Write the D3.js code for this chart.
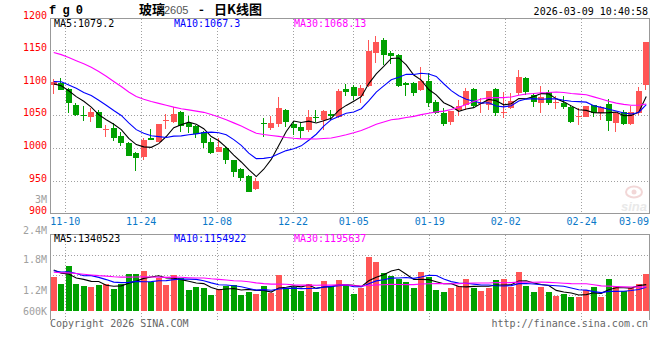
<!DOCTYPE html>
<html><head><meta charset="utf-8">
<script src="https://cdn.jsdelivr.net/npm/d3@7/dist/d3.min.js"></script>
<style>body{margin:0;background:#fff}svg{display:block}</style>
</head><body>
<svg id="chart" width="660" height="360"></svg>
<script>
// ---------------- DATA ----------------
const dates = ["11-06","11-07","11-10","11-11","11-12","11-13","11-14","11-17","11-18","11-19",
"11-20","11-21","11-24","11-25","11-26","11-27","11-28","12-01","12-02","12-03",
"12-04","12-05","12-08","12-09","12-10","12-11","12-12","12-15","12-16","12-17",
"12-18","12-19","12-22","12-23","12-24","12-25","12-26","12-29","12-30","12-31",
"01-05","01-06","01-07","01-08","01-09","01-12","01-13","01-14","01-15","01-16",
"01-19","01-20","01-21","01-22","01-23","01-26","01-27","01-28","01-29","01-30",
"02-02","02-03","02-04","02-05","02-06","02-09","02-10","02-11","02-12","02-13",
"02-24","02-25","02-26","02-27","03-02","03-03","03-04","03-05","03-06","03-09"];
const opens = [1097.5,1100,1091.3,1066.8,1051,1049,1056.6,1029.6,1032,1019,
1009,993.5,986.3,1016.5,1010.4,1042,1041,1056.5,1038.7,1035,
1024.9,1010.5,995,1001.3,982.3,968.5,958,937,1039.5,1031.8,
1038,1059,1037,1033.4,1028.3,1049,1043.6,1052.8,1047.7,1091.2,
1093.7,1080.4,1095.8,1147,1166.4,1147,1143.4,1101,1100,1089.6,
1104,1071.7,1054.9,1041,1059,1066.6,1090.7,1068.2,1066.6,1090.7,
1053.8,1061.5,1084.5,1107.5,1082,1070.2,1087,1071,1070.2,1064,
1049,1048.7,1066.6,1054.9,1068.2,1038.5,1056.4,1037.5,1054.9,1097.3];
const highs = [1106.5,1108.5,1092,1070.4,1065.3,1061.7,1059,1036,1038.5,1025,
1009.5,994,1015.5,1029.8,1037.5,1052.8,1064,1057,1050,1036,
1026,1016.7,1016.7,1002,983,970,959,955,1046,1050,
1079.4,1060,1042,1041,1059,1059,1059,1059,1090.6,1098.3,
1097.3,1097.3,1166.4,1172.5,1169,1150,1145,1102.4,1102.4,1125.4,
1115.2,1074.3,1061.5,1058,1074.3,1092.2,1092.2,1077,1088,1092.2,
1087,1084.5,1120.3,1110,1084.5,1095.8,1089.6,1080.4,1080.4,1066.6,
1061.5,1065.5,1067,1065,1075.3,1056.4,1059,1065,1094.7,1163.8];
const lows = [1083,1089,1055,1050,1042.3,1041,1031,1017,1012,1004,
988,966,982,1012.5,1010,1029.3,1039.5,1025.7,1023,1015.6,
1000,991,994.5,976,956.7,950,932.5,936.5,1018,1028.3,
1033.4,1033.4,1020.6,1015.5,1025.7,1041,1028,1043.6,1046,1081,
1074.3,1069,1094.8,1131.6,1128,1130,1095,1081,1081,1088,
1064,1053,1034.6,1036,1050,1059,1063,1053.8,1059,1050,
1046,1060,1082,1082,1064,1053.8,1066.6,1061,1060,1038.5,
1036,1048,1048,1043.6,1027.2,1025.7,1036,1036,1052,1089.6];
const closes = [1101.5,1089.8,1069.4,1051.5,1049.5,1056.6,1032,1030.5,1016.5,1009,
988.4,985,1013,1013,1037.5,1043,1052.8,1035,1033.6,1021.8,
1008,992.6,1002.8,982.3,963.3,955,933.6,950,1038.5,1038.5,
1061.5,1041,1030.8,1027.2,1048.7,1048,1057.4,1049.7,1088,1087,
1080.4,1092.2,1150,1162.8,1143.4,1142.3,1095.8,1097.3,1084.5,1104,
1070.2,1054.9,1037.5,1057.4,1065,1088,1065,1070.2,1088,1055,
1056.4,1072.8,1110,1087,1071.7,1079.4,1070.2,1072,1064,1041,
1050,1065,1054,1063,1042.6,1054,1037.5,1056.4,1088,1162.8];
// volume in thousands of lots
const volumes = [1402,1231,1652,1231,1184,1168,1208,1224,1114,1224,
1465,1465,1542,1271,1379,1208,1442,1364,1091,1161,
1145,974,1114,1184,1208,974,1044,997,1184,1013,
1442,1131,1161,1075,1231,1044,1301,1184,1325,1208,
997,1131,1869,1753,1495,1425,1341,1285,1131,1519,
1388,1091,1051,1145,1184,1348,1145,1075,1145,1325,
1348,1168,1519,1184,1051,1168,1051,958,997,934,
934,1091,1168,934,1348,1184,1075,1131,1231,1465];
// sessions before the visible window (estimated, only feed the moving averages)
const prevCloses = [1191,1200,1198,1196,1218,1223,1252,1253,1245,1239,
1191,1144,1114,1124,1129,1139,1106,1090,1078,1064,
1091,1119,1104,1112,1104,1104,1108,1097,1085];
const prevVolumes = [1600,1700,1650,1750,1620,1680,1560,1602,1500,1450,
1380,1420,1350,1480,1390,1300,1420,1400,1422,1056,
1550,1563,1650,1705,1160,1600,1750,1700,1340];
const priceTicks = [1200,1150,1100,1050,1000,950,900];
const dateTicks = ["11-10","11-24","12-08","12-22","01-05","01-19","02-02","02-24","03-09"];
const volTicks = [3000,2400,1800,1200,600];
const volTickLabels = ["3M","2.4M","1.8M","1.2M","600K"];
const maLabels = ["MA5:1079.2","MA10:1067.3","MA30:1068.13"];
const volMaLabels = ["MA5:1340523","MA10:1154922","MA30:1195637"];
const titleParts = ["玻璃","2605","-","日K线图"];
const symbolText = "f g 0";
const stampText = "2026-03-09 10:40:58";
const footLeft = "Copyright 2026 SINA.COM";
const footRight = "http://finance.sina.com.cn";

// ---------------- LAYOUT ----------------
const L = 50, R = 650;
const UP = "#ff5555", DOWN = "#00a000";
const MA_COLORS = ["#000000", "#0000ff", "#ff00ff"];
const MONO = "'DejaVu Sans Mono', monospace";
const svg = d3.select("#chart");
const idx = d3.range(dates.length);
const xb = d3.scaleBand().domain(idx).range([L, R]);
const xg = d3.scalePoint().domain(idx).range([L, R]);
const y = d3.scaleLinear().domain([900, 1200]).range([213.6, 18.1]);
const yv = d3.scaleLinear().domain([600, 2400]).range([311, 234]);
const px = v => Math.floor(v) + 0.5;
const cx = i => xb(i) + xb.bandwidth() / 2;
const bodyX = i => Math.floor(xb(i) + 1);

function movingAvg(series, prev, n) {
  const all = prev.concat(series);
  return series.map((_, i) => {
    const j = i + prev.length;
    return d3.mean(all.slice(j - n + 1, j + 1));
  });
}

const gridStyle = s => s.attr("stroke", "#a0a0a0").attr("stroke-width", 1)
  .attr("stroke-dasharray", "1,2").attr("shape-rendering", "crispEdges");
const tickIdx = dateTicks.map(d => dates.indexOf(d));

// ---- main panel grid ----
const main = svg.append("g");
main.selectAll(".gh").data(priceTicks.filter(v => v > 900 && v < 1200)).join("line")
  .attr("x1", L).attr("x2", R).attr("y1", v => px(y(v))).attr("y2", v => px(y(v))).call(gridStyle);
main.selectAll(".gv").data(tickIdx.filter(i => i < dates.length - 1)).join("line")
  .attr("x1", i => px(xg(i))).attr("x2", i => px(xg(i)))
  .attr("y1", px(y(1200))).attr("y2", px(y(900))).call(gridStyle);

// ---- volume panel grid ----
const vTop = 234.5, vBot = 320;
const volGridY = [255.5, 275.5, 295.5];
const vol = svg.append("g");
vol.selectAll(".vh").data(volGridY).join("line")
  .attr("x1", L).attr("x2", R).attr("y1", d => d).attr("y2", d => d).call(gridStyle);
vol.selectAll(".vv").data(tickIdx.filter(i => i < dates.length - 1)).join("line")
  .attr("x1", i => px(xg(i))).attr("x2", i => px(xg(i)))
  .attr("y1", vTop).attr("y2", vBot).call(gridStyle);

// ---- watermark ----
const wm = svg.append("g").attr("opacity", 0.55);
wm.append("ellipse").attr("cx", 634).attr("cy", 192).attr("rx", 8).attr("ry", 5.5)
  .attr("fill", "none").attr("stroke", "#e8b8b8").attr("stroke-width", 2);
wm.append("circle").attr("cx", 634).attr("cy", 192).attr("r", 2.5).attr("fill", "#e8b8b8");
wm.append("text").attr("x", 621).attr("y", 211).text("sina")
  .attr("font-family", "'Liberation Sans', sans-serif").attr("font-size", 13)
  .attr("font-style", "italic").attr("font-weight", "bold").attr("fill", "#d8d8d8");

// ---- borders ----
const border = svg.append("g").attr("stroke", "#999").attr("stroke-width", 1)
  .attr("shape-rendering", "crispEdges").attr("fill", "none");
border.append("rect").attr("x", L + 0.5).attr("y", px(y(1200)))
  .attr("width", R - L - 1).attr("height", px(y(900)) - px(y(1200)));
border.append("line").attr("x1", L).attr("x2", R).attr("y1", vTop).attr("y2", vTop);
border.append("line").attr("x1", L + 0.5).attr("x2", L + 0.5).attr("y1", vTop).attr("y2", vBot);
border.append("line").attr("x1", R - 0.5).attr("x2", R - 0.5).attr("y1", vTop).attr("y2", vBot);

// ---- candles ----
const candles = svg.append("g").attr("shape-rendering", "crispEdges");
const col = i => closes[i] >= opens[i] ? UP : DOWN;
candles.selectAll(".wick").data(idx).join("rect")
  .attr("x", i => bodyX(i) + 2).attr("width", 1)
  .attr("y", i => Math.round(y(highs[i])))
  .attr("height", i => Math.max(1, Math.round(y(lows[i])) - Math.round(y(highs[i]))))
  .attr("fill", col);
candles.selectAll(".body").data(idx).join("rect")
  .attr("x", bodyX).attr("width", 6)
  .attr("y", i => Math.round(y(Math.max(opens[i], closes[i]))))
  .attr("height", i => Math.max(1, Math.round(y(Math.min(opens[i], closes[i]))) - Math.round(y(Math.max(opens[i], closes[i])))))
  .attr("fill", col);

// ---- price moving averages ----
const priceMAs = [5, 10, 30].map(n => movingAvg(closes, prevCloses, n));
const lineP = d3.line().x((d, i) => cx(i)).y(d => y(d));
svg.append("g").selectAll("path").data(priceMAs).join("path")
  .attr("d", lineP).attr("fill", "none").attr("stroke-width", 1.1)
  .attr("stroke", (d, k) => MA_COLORS[k]);

// ---- volume bars ----
svg.append("g").attr("shape-rendering", "crispEdges").selectAll("rect").data(idx).join("rect")
  .attr("x", bodyX).attr("width", 6)
  .attr("y", i => Math.round(yv(volumes[i])))
  .attr("height", i => Math.round(yv(600)) - Math.round(yv(volumes[i])))
  .attr("fill", col);

const volMAs = [5, 10, 30].map(n => movingAvg(volumes, prevVolumes, n));
const lineV = d3.line().x((d, i) => cx(i)).y(d => yv(d));
svg.append("g").selectAll("path").data(volMAs).join("path")
  .attr("d", lineV).attr("fill", "none").attr("stroke-width", 1.1)
  .attr("stroke", (d, k) => MA_COLORS[k]);

// ---- texts ----
const txt = (x, yy, s, fill, anchor) => svg.append("text").attr("x", x).attr("y", yy)
  .attr("font-family", MONO).attr("font-size", 10).attr("fill", fill)
  .attr("text-anchor", anchor || "start").text(s);

// price axis labels
priceTicks.forEach(v => txt(47, y(v) - 3 + 3.5, v, "#ff0000", "end"));
// volume axis labels
const volLabelDy = [-9, -4, 0, 5.5, 0];
volTicks.forEach((v, k) => txt(47, yv(v) + volLabelDy[k] + 3.5, volTickLabels[k], "#a0a0a0", "end"));
// date labels
tickIdx.forEach((i, k) => {
  let x = xg(i), a = "middle";
  if (x - 15 < L) { x = L + 1; a = "start"; }
  else if (x + 15 > R) { x = R - 1; a = "end"; }
  txt(x, 225, dateTicks[k], "#0a78c8", a);
});
// MA legends
const maX = [54, 174, 294];
maLabels.forEach((s, k) => txt(maX[k], 27, s, MA_COLORS[k]));
volMaLabels.forEach((s, k) => txt(maX[k], 242, s, MA_COLORS[k]));
// header
svg.append("text").attr("x", 49).attr("y", 14).text(symbolText)
  .attr("font-family", "'Liberation Mono', monospace").attr("font-weight", "bold")
  .attr("font-size", 12).attr("letter-spacing", -0.5).attr("fill", "#000");
const title = svg.append("text").attr("y", 14).attr("font-weight", "bold").attr("fill", "#000");
title.append("tspan").attr("x", 139).attr("font-family", "'Noto Sans CJK SC'").attr("font-size", 13).text(titleParts[0]);
title.append("tspan").attr("x", 164).attr("font-family", "'Liberation Sans', sans-serif").attr("font-weight", "normal").attr("font-size", 11).attr("fill", "#555").text(titleParts[1]);
title.append("tspan").attr("x", 199).attr("font-family", "'Noto Sans CJK SC'").attr("font-size", 13).text(titleParts[2]);
title.append("tspan").attr("x", 214).attr("font-family", "'Noto Sans CJK SC'").attr("font-size", 13).text(titleParts[3]);
txt(648, 15, stampText, "#000", "end");
// footer
txt(50, 327, footLeft, "#666");
txt(648, 327, footRight, "#666", "end");
</script>
</body></html>
